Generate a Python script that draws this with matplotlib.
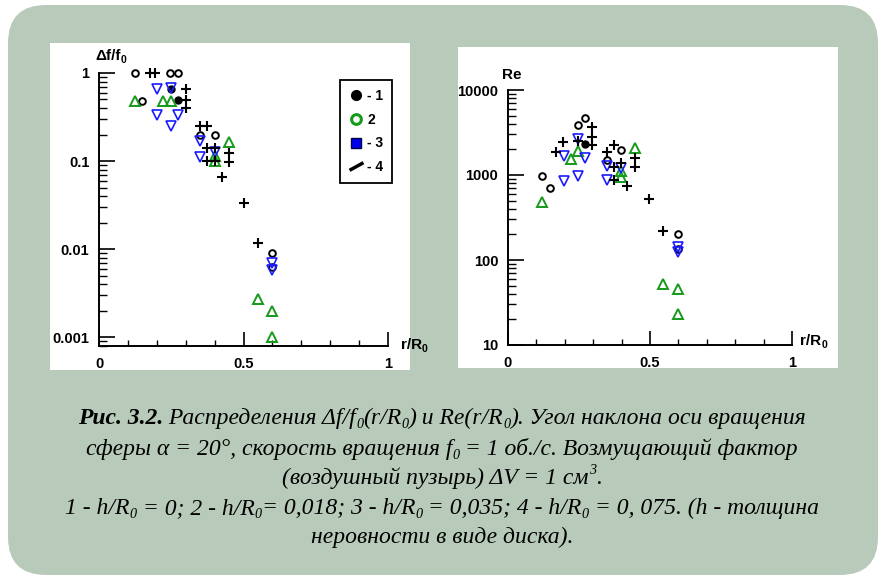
import matplotlib
matplotlib.use("Agg")
import matplotlib.pyplot as plt
from matplotlib.patches import FancyBboxPatch, Rectangle
from matplotlib.transforms import IdentityTransform
from matplotlib.lines import Line2D
from matplotlib.ticker import LogLocator, NullFormatter, MultipleLocator

W, H = 885, 579

# ---- data ----
# left panel: df/f0 vs r/R0
df_r1 = [0.125, 0.15, 0.245, 0.273, 0.35, 0.40, 0.60, 0.60]
df_v1 = [1.0, 0.48, 1.0, 1.0, 0.197, 0.197, 0.009, 0.0062]
df_r1f = [0.25, 0.273]
df_v1f = [0.66, 0.49]
df_r2 = [0.125, 0.22, 0.25, 0.45, 0.40, 0.40, 0.55, 0.60, 0.60]
df_v2 = [0.48, 0.48, 0.48, 0.165, 0.115, 0.10, 0.0027, 0.002, 0.001]
df_r3 = [0.20, 0.25, 0.20, 0.273, 0.25, 0.35, 0.35, 0.40, 0.60, 0.60]
df_v3 = [0.66, 0.67, 0.33, 0.33, 0.25, 0.17, 0.11, 0.127, 0.0069, 0.0058]
df_r4 = [0.176, 0.194, 0.30, 0.30, 0.30, 0.35, 0.375, 0.375, 0.40, 0.375,
         0.40, 0.45, 0.45, 0.425, 0.50, 0.55]
df_v4 = [1.0, 1.0, 0.66, 0.49, 0.40, 0.25, 0.25, 0.14, 0.14, 0.10,
         0.10, 0.123, 0.098, 0.066, 0.033, 0.0117]

# right panel: Re vs r/R0
re_r1 = [0.12, 0.148, 0.246, 0.271, 0.349, 0.398, 0.60, 0.60]
re_v1 = [975, 706, 3876, 4685, 1500, 1970, 202, 135]
re_r1f = [0.271]
re_v1f = [2318]
re_r2 = [0.12, 0.222, 0.246, 0.398, 0.398, 0.447, 0.546, 0.60, 0.60]
re_v2 = [482, 1540, 1918, 1100, 950, 2080, 52, 46, 23]
re_r3 = [0.197, 0.246, 0.197, 0.271, 0.246, 0.349, 0.349, 0.398, 0.60, 0.60]
re_v3 = [850, 975, 1673, 1590, 2650, 1280, 870, 1210, 142, 125]
re_r4 = [0.169, 0.194, 0.246, 0.296, 0.296, 0.296, 0.349, 0.373, 0.373,
         0.398, 0.373, 0.447, 0.447, 0.42, 0.497, 0.546]
re_v4 = [1866, 2446, 2520, 3670, 2800, 2250, 1866, 2250, 1250,
         1380, 870, 1590, 1250, 740, 523, 220]

x_ticks = [0, 0.5, 1]
x_labels = ["0", "0.5", "1"]
df_ticks = [0.001, 0.01, 0.1, 1]
df_labels = ["0.001", "0.01", "0.1", "1"]
re_ticks = [10, 100, 1000, 10000]
re_labels = ["10", "100", "1000", "10000"]
legend_labels = ["- 1", "2", "- 3", "- 4"]

SANS = "Liberation Sans"
SERIF = "Liberation Serif"

fig = plt.figure(figsize=(W / 100, H / 100), dpi=100)
fig.patch.set_facecolor("white")
pix = IdentityTransform()


def box(x0, y0, x1, y1):
    # rectangle given in image pixels (origin top-left)
    return x0, H - y1, x1 - x0, y1 - y0


bx, by, bw, bh = box(8, 5, 878, 575)
fig.patches.append(FancyBboxPatch((bx, by), bw, bh, boxstyle="round,pad=0,rounding_size=38",
                                  transform=pix, facecolor="#b8cbba", edgecolor="none", zorder=-2))
for b in [box(50, 43, 410, 370), box(458, 47, 838, 368)]:
    fig.patches.append(Rectangle(b[:2], b[2], b[3], transform=pix,
                                 facecolor="white", edgecolor="none", zorder=-1))


def runs_text(x, y, runs, ha="center"):
    # draw a line made of differently styled pieces; x, y in image pixels (y = baseline)
    r = fig.canvas.get_renderer()
    widths = []
    for s, kw in runs:
        kw = {k: v for k, v in kw.items() if k != "dy"}
        t1 = fig.text(0, 0, "|" + s + "|", **kw)
        t2 = fig.text(0, 0, "||", **kw)
        widths.append(t1.get_window_extent(r).width - t2.get_window_extent(r).width)
        t1.remove()
        t2.remove()
    x0 = x - sum(widths) / 2 if ha == "center" else x
    for (s, kw), w in zip(runs, widths):
        kw = dict(kw)
        dy = kw.pop("dy", 0)
        fig.text(x0 / W, (H - y - dy) / H, s, va="baseline", ha="left", **kw)
        x0 += w


def setup(ax, yticks, ylabels, ylim):
    ax.set_yscale("log")
    ax.set_xlim(0, 1)
    ax.set_ylim(*ylim)
    ax.patch.set_visible(False)
    for s in ["top", "right"]:
        ax.spines[s].set_visible(False)
    for s in ["left", "bottom"]:
        ax.spines[s].set_linewidth(1.4)
    ax.set_xticks(x_ticks, x_labels)
    ax.xaxis.set_minor_locator(MultipleLocator(0.1))
    ax.set_yticks(yticks, ylabels)
    ax.yaxis.set_minor_locator(LogLocator(base=10, subs=range(2, 10)))
    ax.yaxis.set_minor_formatter(NullFormatter())
    ax.tick_params(axis="both", which="both", direction="in", color="black")
    ax.tick_params(axis="x", which="major", length=10, width=1.2, pad=8)
    ax.tick_params(axis="x", which="minor", length=4.5, width=1.0)
    ax.tick_params(axis="y", which="major", length=11.5, width=1.2, pad=7)
    ax.tick_params(axis="y", which="minor", length=5.8, width=1.0)
    for lab in ax.get_xticklabels() + ax.get_yticklabels():
        lab.set_fontfamily(SANS)
        lab.set_fontweight("bold")
        lab.set_fontsize(10.5)


def draw_series(ax, r1, v1, r1f, v1f, r2, v2, r3, v3, r4, v4):
    ax.plot(r1, v1, "o", mfc="none", mec="black", ms=4.8, mew=1.4, clip_on=False)
    ax.plot(r1f, v1f, "o", mfc="black", mec="black", ms=5, clip_on=False)
    ax.plot(r2, v2, "^", mfc="none", mec="#159a1a", ms=6.5, mew=1.4, clip_on=False)
    ax.plot(r3, v3, "v", mfc="none", mec="#1a1aff", ms=6.5, mew=1.2, clip_on=False)
    ax.plot(r4, v4, "+", color="black", ms=7.5, mew=1.5, clip_on=False)


ax1 = fig.add_axes([99 / W, 1 - 346 / H, 289 / W, 273 / H])
setup(ax1, df_ticks, df_labels, (10 ** -3.102, 1.0))
draw_series(ax1, df_r1, df_v1, df_r1f, df_v1f, df_r2, df_v2, df_r3, df_v3, df_r4, df_v4)

ax2 = fig.add_axes([508 / W, 1 - 345 / H, 284 / W, 255 / H])
setup(ax2, re_ticks, re_labels, (10, 10000))
draw_series(ax2, re_r1, re_v1, re_r1f, re_v1f, re_r2, re_v2, re_r3, re_v3, re_r4, re_v4)

handles = [
    Line2D([], [], ls="none", marker="o", mfc="black", mec="black", ms=7),
    Line2D([], [], ls="none", marker="o", mfc="none", mec="#159a1a", ms=7, mew=2.2),
    Line2D([], [], ls="none", marker="s", mfc="#0000ee", mec="#000044", ms=7),
    Line2D([], [], ls="none", marker=[(-1, -0.55), (1, 0.55)], color="black", ms=10, mew=2.5),
]
leg = ax1.legend(handles, legend_labels, loc="upper left",
                 bbox_to_anchor=(340 / W, 1 - 80 / H), bbox_transform=fig.transFigure,
                 borderaxespad=0, frameon=True, fancybox=False, edgecolor="black",
                 framealpha=1, handlelength=1.0, handletextpad=0.3, labelspacing=0.7,
                 borderpad=0.65, prop={"family": SANS, "weight": "bold", "size": 10})
leg.get_frame().set_linewidth(1.3)

# axis titles
bold = {"family": SANS, "weight": "bold", "size": 11}
bsub = {"family": SANS, "weight": "bold", "size": 7.5, "dy": 3}
runs_text(95, 60, [("Δf/f", bold), ("0", bsub)], ha="left")
runs_text(502, 79, [("Re", bold)], ha="left")
runs_text(401, 349, [("r/R", bold), ("0", bsub)], ha="left")
runs_text(800, 345, [("r/R", bold), ("0", bsub)], ha="left")

# caption
FS = 17
it = {"family": SERIF, "style": "italic", "size": FS}
bi = {"family": SERIF, "style": "italic", "weight": "bold", "size": FS}
sub = {"family": SERIF, "style": "italic", "size": FS * 0.6, "dy": 4}
sup = {"family": SERIF, "style": "italic", "size": FS * 0.6, "dy": -10}
cx = 442
runs_text(cx, 424, [("Рис. 3.2.", bi), (" Распределения Δf/f", it), ("0", sub), ("(r/R", it),
                    ("0", sub), (") и Re(r/R", it), ("0", sub), ("). Угол наклона оси вращения", it)])
runs_text(cx, 455, [("сферы α = 20°, скорость вращения f", it), ("0", sub),
                    (" = 1 об./с. Возмущающий фактор", it)])
runs_text(cx, 484, [("(воздушный пузырь) ΔV = 1 см", it), ("3", sup), (".", it)])
runs_text(cx, 514, [("1 - h/R", it), ("0", sub), (" = 0; 2 - h/R", it), ("0", sub),
                    ("= 0,018; 3 - h/R", it), ("0", sub), (" = 0,035; 4 - h/R", it), ("0", sub),
                    (" = 0, 075. (h - толщина", it)])
runs_text(cx, 543, [("неровности в виде диска).", it)])

fig.savefig("out.png", dpi=100)
